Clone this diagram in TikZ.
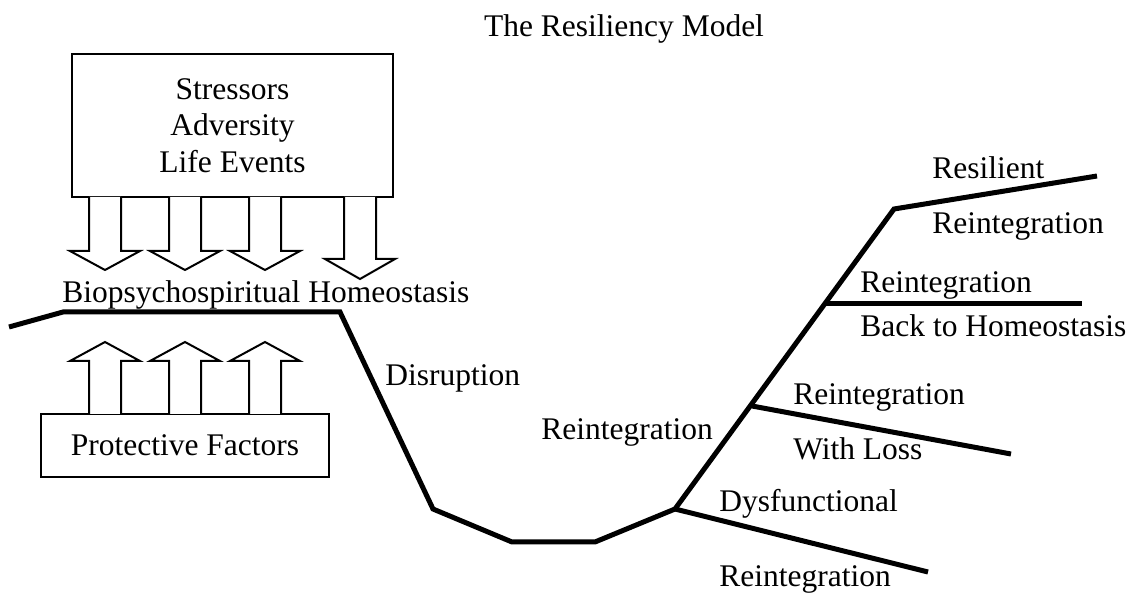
\documentclass[tikz,border=0pt]{standalone}
\usepackage{fontspec}
\setmainfont{Liberation Serif}
\tikzset{
    trail/.style={line width=2.5pt},
    factorbox/.style={draw, line width=1pt, align=center, inner sep=0pt},
    blockarrow/.style={draw, line width=1pt, fill=white},
    lbl/.style={anchor=base west, inner sep=0pt}
}
\begin{document}
\begin{tikzpicture}[x=0.5pt,y=-0.5pt,font=\fontsize{15.75}{18.25}\selectfont]
    \useasboundingbox (0,0) rectangle (1132,593);
    \node[anchor=base, inner sep=0pt] (title) at (624,37) {The Resiliency Model};
    % boxes
    \node[factorbox, minimum width=160.5pt, minimum height=71.5pt] (stress) at (232.5,125.5) {Stressors\\Adversity\\Life Events};
    \node[factorbox, minimum width=144pt, minimum height=31.5pt] (protect) at (185,445.5) {Protective Factors};
    % arrows down and up
    \foreach \x/\b/\t in {105/251/270, 185/251/270, 265/251/270, 360/259/279} {
        \draw[blockarrow] ({\x-16},197) -- ({\x-16},\b) -- ({\x-35},\b) -- (\x,\t) -- ({\x+35},\b) -- ({\x+16},\b) -- ({\x+16},197);
    }
    \foreach \x in {105,185,265} {
        \draw[blockarrow] ({\x-16},414) -- ({\x-16},361) -- ({\x-35},361) -- (\x,342) -- ({\x+35},361) -- ({\x+16},361) -- ({\x+16},414);
    }
    % the course
    \coordinate (p0) at (9,327); \coordinate (p1) at (63,312);
    \coordinate (p2) at (340,312); \coordinate (p3) at (433,509);
    \coordinate (p4) at (512,542); \coordinate (p5) at (595,542);
    \coordinate (p6) at (675,509); \coordinate (p7) at (894,209);
    \coordinate (p8) at (1097,176);
    \draw[trail] (p0) -- (p1) -- (p2) -- (p3) -- (p4) -- (p5) -- (p6) -- (p7) -- (p8);
    \coordinate (home) at (825,304); \coordinate (homeEnd) at (1082,304);
    \coordinate (loss) at (752,406); \coordinate (lossEnd) at (1011,454);
    \coordinate (dysEnd) at (928,572);
    \draw[trail] (home) -- (homeEnd);
    \draw[trail] (loss) -- (lossEnd);
    \draw[trail] (p6) -- (dysEnd);
    % labels
    \node[lbl] (homeo) at (62,303) {Biopsychospiritual Homeostasis};
    \node[lbl] (disr) at (385,386) {Disruption};
    \node[lbl] (reint) at (541,440) {Reintegration};
    \node[lbl] (resA) at (932,179) {Resilient};
    \node[lbl] (resB) at (932,234) {Reintegration};
    \node[lbl] (backA) at (860,293) {Reintegration};
    \node[lbl] (backB) at (860,337) {Back to Homeostasis};
    \node[lbl] (lossA) at (793,405) {Reintegration};
    \node[lbl] (lossB) at (793,460) {With Loss};
    \node[lbl] (dysA) at (719,512) {Dysfunctional};
    \node[lbl] (dysB) at (719,587) {Reintegration};
\end{tikzpicture}
\end{document}
